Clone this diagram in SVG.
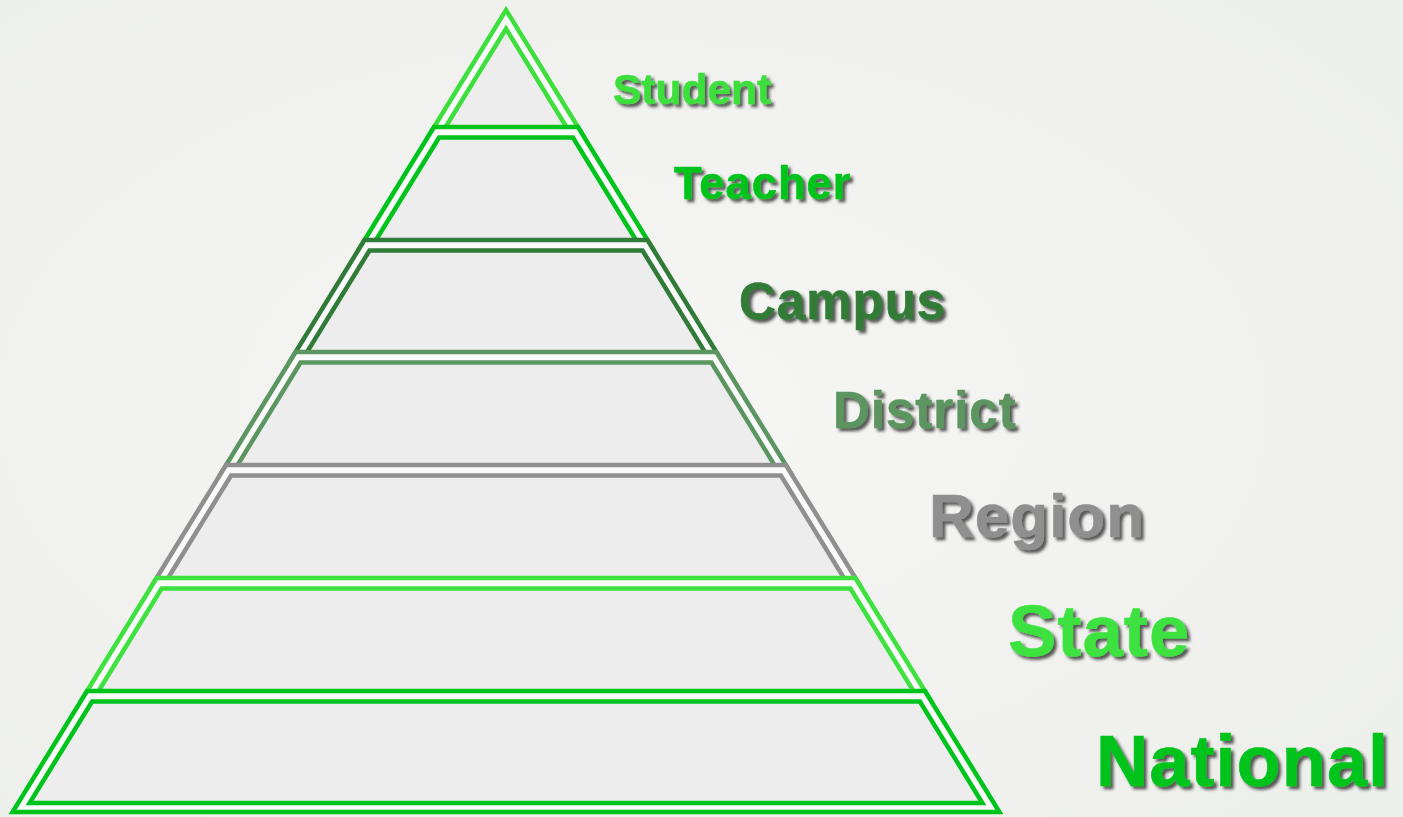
<svg xmlns="http://www.w3.org/2000/svg" width="1403" height="817" viewBox="0 0 1403 817">
  <defs>
    <radialGradient id="bg" cx="0.45" cy="0.5" r="0.8">
      <stop offset="0" stop-color="#f6f6f4"/>
      <stop offset="1" stop-color="#eceeea"/>
    </radialGradient>
    <filter id="shadow" x="-10%" y="-20%" width="130%" height="150%">
      <feDropShadow dx="3" dy="3" stdDeviation="1.4" flood-color="#222" flood-opacity="0.75"/>
    </filter>
    <style>
      .outer { fill: #fafafa; stroke-width: 4.5; stroke-linejoin: miter; }
      .inner { fill: #ededed; stroke-width: 4.5; stroke-linejoin: miter; }
      .lbl { font-family: "Liberation Sans", Arial, sans-serif; font-weight: bold; filter: url(#shadow); stroke-width: 0.6; }
      .c1 { stroke: #3ddf3d; } .t1 { fill: #3ddf3d; stroke: #3ddf3d; }
      .c2 { stroke: #00c41c; } .t2 { fill: #00c41c; stroke: #00c41c; }
      .c3 { stroke: #317b38; } .t3 { fill: #317b38; stroke: #317b38; }
      .c4 { stroke: #5b9560; } .t4 { fill: #5b9560; stroke: #5b9560; }
      .c5 { stroke: #8f8f8f; } .t5 { fill: #8f8f8f; stroke: #8f8f8f; }
      .c6 { stroke: #3de23f; } .t6 { fill: #3de23f; stroke: #3de23f; }
      .c7 { stroke: #00c41c; } .t7 { fill: #00c41c; stroke: #00c41c; }
    </style>
  </defs>
  <rect width="1403" height="817" fill="url(#bg)"/>
  <g id="connectors"/>
  <g id="student">
    <polygon class="outer c1" points="506,10 582.9,135 429.1,135"/>
    <polygon class="inner c1" points="506,28.7 568.9,131 443.1,131"/>
    <text class="lbl t1" x="613" y="104" font-size="42.5">Student</text>
  </g>
  <g id="teacher">
    <polygon class="outer c2" points="434,127 578,127 652.4,248 359.6,248"/>
    <polygon class="inner c2" points="439.1,137.5 572.9,137.5 638.5,244 373.5,244"/>
    <text class="lbl t2" x="674" y="199" font-size="45.3" letter-spacing="1">Teacher</text>
  </g>
  <g id="campus">
    <polygon class="outer c3" points="364.5,240 647.5,240 721.3,360 290.7,360"/>
    <polygon class="inner c3" points="369.5,250.5 642.5,250.5 707.4,356 304.6,356"/>
    <text class="lbl t3" x="739" y="319" font-size="51" letter-spacing="1">Campus</text>
  </g>
  <g id="district">
    <polygon class="outer c4" points="295.6,352 716.4,352 790.8,473 221.2,473"/>
    <polygon class="inner c4" points="300.6,362.5 711.4,362.5 776.9,469 235.1,469"/>
    <text class="lbl t4" x="833" y="428" font-size="51" letter-spacing="1">District</text>
  </g>
  <g id="region">
    <polygon class="outer c5" points="226.1,465 785.9,465 860.4,586 151.6,586"/>
    <polygon class="inner c5" points="231.1,475.5 780.9,475.5 846.4,582 165.6,582"/>
    <text class="lbl t5" x="929" y="537" font-size="62" letter-spacing="1">Region</text>
  </g>
  <g id="state">
    <polygon class="outer c6" points="156.6,578 855.4,578 929.9,699 82.1,699"/>
    <polygon class="inner c6" points="161.6,588.5 850.4,588.5 915.9,695 96.1,695"/>
    <text class="lbl t6" x="1008" y="656" font-size="72.5" letter-spacing="1">State</text>
  </g>
  <g id="national">
    <polygon class="outer c7" points="87.05,691 924.95,691 999.4,812 12.6,812"/>
    <polygon class="inner c7" points="92.1,701.5 919.9,701.5 982.4,803 29.6,803"/>
    <text class="lbl t7" x="1096" y="786" font-size="72.3" letter-spacing="1">National</text>
  </g>
</svg>
